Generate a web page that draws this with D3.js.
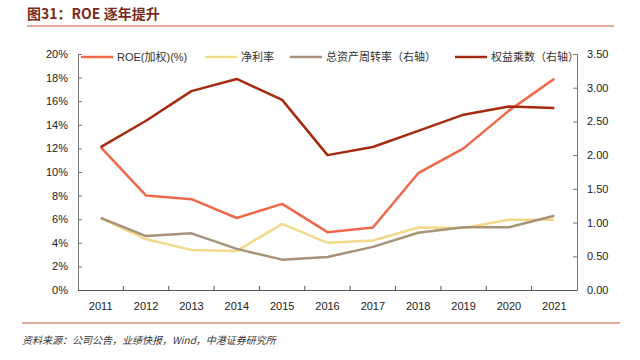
<!DOCTYPE html>
<html><head><meta charset="utf-8">
<script src="https://cdn.jsdelivr.net/npm/d3@7"></script>
<style>
body{margin:0;background:#fff;}
text{font-family:"Liberation Sans","Noto Sans CJK SC",sans-serif;}
</style></head>
<body><svg id="c" width="640" height="360"></svg>
<script>
const years = ["2011","2012","2013","2014","2015","2016","2017","2018","2019","2020","2021"];
const roe = [12.1, 8.0, 7.7, 6.1, 7.3, 4.9, 5.3, 9.9, 12.0, 15.2, 17.9];
const netMargin = [6.1, 4.3, 3.4, 3.3, 5.6, 4.0, 4.2, 5.3, 5.25, 5.95, 5.95];
const assetTurnover = [1.07, 0.80, 0.84, 0.61, 0.45, 0.49, 0.64, 0.85, 0.93, 0.93, 1.10];
const equityMultiplier = [2.12, 2.51, 2.95, 3.13, 2.82, 2.00, 2.12, 2.36, 2.60, 2.72, 2.70];
const leftTicks = [0,2,4,6,8,10,12,14,16,18,20];
const rightTicks = [0,0.5,1,1.5,2,2.5,3,3.5];

const series = [
  {name:"ROE(加权)(%)", values:roe, axis:"L", color:"#F0684A"},
  {name:"净利率", values:netMargin, axis:"L", color:"#F2DA8A"},
  {name:"总资产周转率（右轴）", values:assetTurnover, axis:"R", color:"#A8927A"},
  {name:"权益乘数（右轴）", values:equityMultiplier, axis:"R", color:"#A52A0E"}
];

const svg = d3.select("#c");
const L = 78, R = 577, T = 54, B = 290;
const x = d3.scaleBand().domain(years).range([L, R]);
const yL = d3.scaleLinear().domain([0,20]).range([B, T]);
const yR = d3.scaleLinear().domain([0,3.5]).range([B, T]);

// title
svg.append("text").attr("x",27).attr("y",19).attr("fill","#7A2A1C")
  .style("font-size","14px").style("font-weight","bold")
  .style("font-family","'Noto Sans CJK SC','Liberation Sans',sans-serif")
  .text("图31：ROE 逐年提升");
svg.append("line").attr("x1",27).attr("x2",614).attr("y1",26).attr("y2",26)
  .attr("stroke","#C8553A").attr("stroke-width",1);

// axes
const axL = d3.axisLeft(yL).tickValues(leftTicks).tickFormat(d=>d+"%").tickSizeInner(-4).tickSizeOuter(-4).tickPadding(10);
const gL = svg.append("g").attr("transform",`translate(${L},0)`).call(axL);
const axR = d3.axisRight(yR).tickValues(rightTicks).tickFormat(d3.format(".2f")).tickSizeInner(-4).tickSizeOuter(-4).tickPadding(10);
const gR = svg.append("g").attr("transform",`translate(${R},0)`).call(axR);
const axB = d3.axisBottom(x).tickSize(0).tickPadding(10);
const gB = svg.append("g").attr("transform",`translate(0,${B})`).call(axB);
gB.selectAll(".domain").remove();
svg.append("line").attr("x1",L).attr("x2",R).attr("y1",B+0.5).attr("y2",B+0.5).attr("stroke","#555");
// band boundary ticks (inside)
svg.append("g").selectAll("line").data(years.slice(1)).join("line")
  .attr("x1",d=>x(d)).attr("x2",d=>x(d)).attr("y1",B).attr("y2",B-4).attr("stroke","#555");
[gL,gR,gB].forEach(g=>{
  g.selectAll(".domain").attr("stroke","#777");
  g.selectAll(".tick line").attr("stroke","#777");
  g.selectAll("text").attr("fill","#222").style("font-size","11px").style("font-family","'Liberation Sans',sans-serif");
});
gB.selectAll("text").attr("dy","0.9em");

// lines
series.forEach(s=>{
  const ys = s.axis==="L"?yL:yR;
  const line = d3.line().x((d,i)=>x(years[i])+x.bandwidth()/2).y(d=>ys(d));
  svg.append("path").datum(s.values).attr("d",line).attr("fill","none")
    .attr("stroke",s.color).attr("stroke-width",2.5).attr("stroke-linejoin","round");
});

// legend
const legX = [81, 205, 290, 455];
const lg = svg.append("g");
series.forEach((s,i)=>{
  lg.append("line").attr("x1",legX[i]).attr("x2",legX[i]+32).attr("y1",57).attr("y2",57)
    .attr("stroke",s.color).attr("stroke-width",2.5);
  lg.append("text").attr("x",legX[i]+36).attr("y",61).attr("fill","#333")
    .style("font-size","11px").text(s.name);
});

// footer
svg.append("line").attr("x1",22).attr("x2",620).attr("y1",323).attr("y2",323)
  .attr("stroke","#C8553A").attr("stroke-width",1);
svg.append("text").attr("x",22).attr("y",344).attr("fill","#333")
  .style("font-size","10px").style("font-style","italic")
  .style("font-family","'Noto Sans CJK SC','Liberation Sans',sans-serif")
  .text("资料来源：公司公告，业绩快报，Wind，中港证券研究所");
</script></body></html>
